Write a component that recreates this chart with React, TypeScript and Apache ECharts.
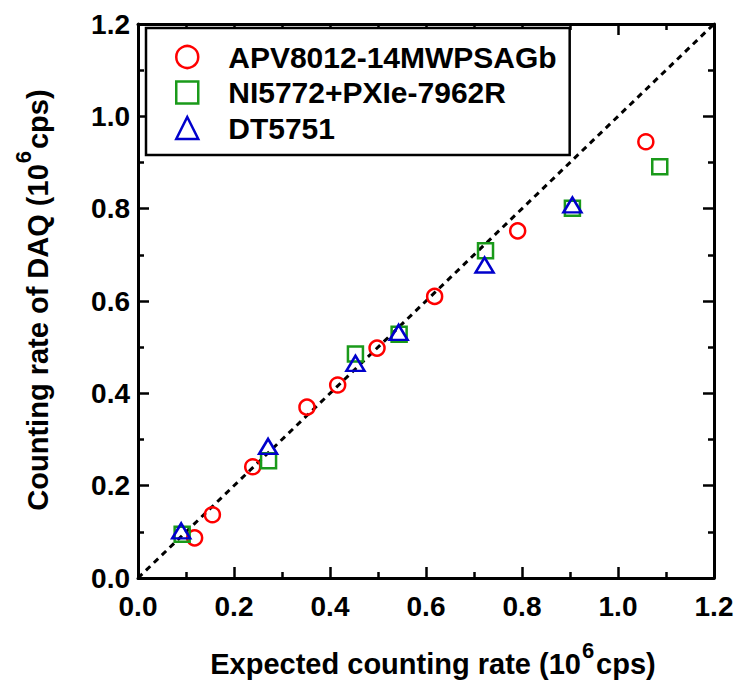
import React, { useEffect, useRef } from 'react';
import * as echarts from 'echarts';

const FONT = '"Liberation Sans", Arial, Helvetica, sans-serif';

const seriesNames = ['APV8012-14MWPSAGb', 'NI5772+PXIe-7962R', 'DT5751'];
const seriesColors = ['#ff0000', '#1a9a1a', '#0000cc'];
const seriesSymbols = ['circle', 'rect', 'triangle'];

const apvX = [0.118, 0.155, 0.239, 0.352, 0.416, 0.498, 0.618, 0.791, 1.058];
const apvY = [0.087, 0.137, 0.241, 0.370, 0.418, 0.498, 0.610, 0.752, 0.945];

const niX = [0.092, 0.272, 0.453, 0.544, 0.724, 0.905, 1.087];
const niY = [0.095, 0.254, 0.485, 0.528, 0.709, 0.801, 0.891];

const dtX = [0.090, 0.271, 0.453, 0.543, 0.722, 0.905];
const dtY = [0.102, 0.285, 0.465, 0.532, 0.678, 0.808];

const refLineX = [0, 1.2];
const refLineY = [0, 1.2];

const axisMin = 0;
const axisMax = 1.2;
const axisInterval = 0.2;

const xTitleMain = 'Expected counting rate (10';
const yTitleMain = 'Counting rate of DAQ (10';
const titleSup = '6';
const titleTail = 'cps)';

const zip = (xs: number[], ys: number[]) => xs.map((x, i) => [x, ys[i]]);

export default function App() {
  const ref = useRef<HTMLDivElement>(null);

  useEffect(() => {
    document.body.style.margin = '0';
    if (!ref.current) return;
    const chart = echarts.init(ref.current, undefined, { renderer: 'svg' });

    const tickStyle = { color: '#000', width: 2.5 };
    const baseAxis = (showLabel: boolean, margin: number) => ({
      type: 'value' as const,
      min: axisMin,
      max: axisMax,
      interval: axisInterval,
      axisLine: { show: true, onZero: false, lineStyle: { color: '#000', width: 3 } },
      axisTick: { show: true, inside: true, length: 11, lineStyle: tickStyle },
      minorTick: { show: true, splitNumber: 2, length: 6, lineStyle: tickStyle },
      splitLine: { show: false },
      minorSplitLine: { show: false },
      axisLabel: {
        show: showLabel,
        margin,
        fontSize: 28,
        fontWeight: 'bold' as const,
        color: '#000',
        fontFamily: FONT,
        formatter: (v: number) => v.toFixed(1),
      },
    });

    const rich = {
      m: { fontSize: 29, fontWeight: 'bold', fontFamily: FONT, fill: '#000', lineHeight: 50, verticalAlign: 'middle' },
      s: { fontSize: 22, fontWeight: 'bold', fontFamily: FONT, fill: '#000', lineHeight: 19, verticalAlign: 'top', padding: [0, 2, 0, 1] },
    };

    const scatterData = [zip(apvX, apvY), zip(niX, niY), zip(dtX, dtY)];
    const symbolSizes: any[] = [15, 15, [18, 15]];

    chart.setOption({
      animation: false,
      backgroundColor: '#fff',
      grid: { left: 138, right: 25, top: 24, bottom: 113, containLabel: false },
      xAxis: [
        { ...baseAxis(true, 14), position: 'bottom' },
        { ...baseAxis(false, 14), position: 'top' },
      ],
      yAxis: [
        { ...baseAxis(true, 8), position: 'left' },
        { ...baseAxis(false, 8), position: 'right' },
      ],
      legend: {
        show: true,
        orient: 'vertical',
        left: 146,
        top: 28,
        padding: [12, 13, 10, 29],
        itemGap: 1.5,
        itemWidth: 22,
        itemHeight: 22,
        selectedMode: false,
        backgroundColor: '#fff',
        borderColor: '#000',
        borderWidth: 2.5,
        textStyle: {
          fontSize: 30,
          fontWeight: 'bold',
          color: '#000',
          fontFamily: FONT,
          lineHeight: 34,
          padding: [0, 0, 0, 25],
        },
        data: seriesNames.map((n, i) => ({
          name: n,
          icon: seriesSymbols[i],
          itemStyle: { color: 'rgba(0,0,0,0)', borderColor: seriesColors[i], borderWidth: 2.5 },
        })),
      },
      series: [
        {
          name: 'ref',
          type: 'line',
          data: zip(refLineX, refLineY),
          symbol: 'none',
          silent: true,
          z: 1,
          lineStyle: { color: '#000', width: 3, type: [6, 5] },
        },
        ...seriesNames.map((n, i) => ({
          name: n,
          type: 'scatter',
          data: scatterData[i],
          symbol: seriesSymbols[i],
          symbolSize: symbolSizes[i],
          z: 3 + i,
          itemStyle: { color: 'rgba(0,0,0,0)', borderColor: seriesColors[i], borderWidth: 2.5, opacity: 1 },
        })),
      ],
      graphic: [
        {
          type: 'text',
          x: 433,
          y: 664,
          style: {
            text: `{m|${xTitleMain}}{s|${titleSup}}{m|${titleTail}}`,
            rich,
            align: 'center',
            verticalAlign: 'middle',
          },
        },
        {
          type: 'text',
          x: 37.5,
          y: 300,
          rotation: Math.PI / 2,
          style: {
            text: `{m|${yTitleMain}}{s|${titleSup}}{m|${titleTail}}`,
            rich,
            align: 'center',
            verticalAlign: 'middle',
          },
        },
      ],
    });

    return () => chart.dispose();
  }, []);

  return (
    <div
      ref={ref}
      style={{ position: 'absolute', left: 0, top: 0, width: 739, height: 691 }}
    />
  );
}
